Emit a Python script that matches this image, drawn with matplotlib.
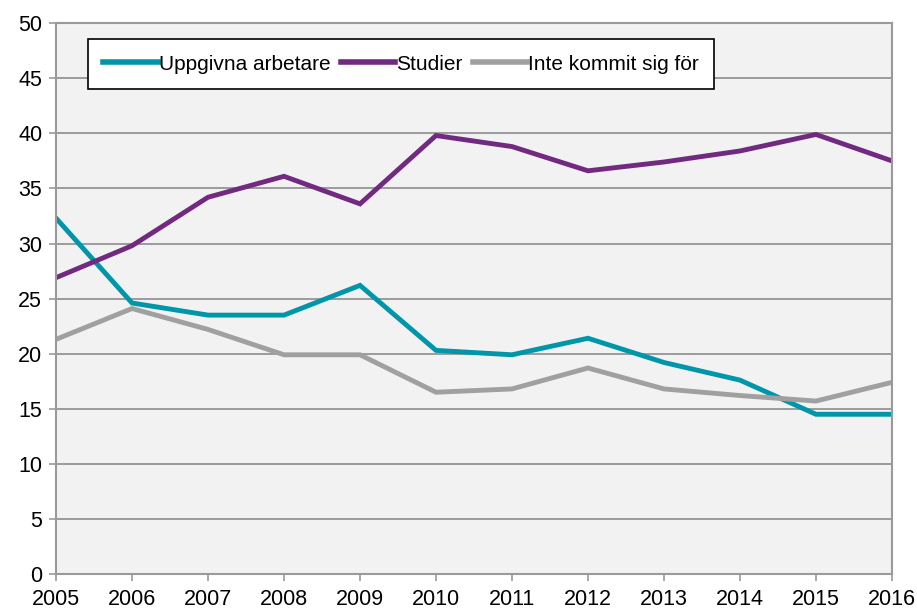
import matplotlib

matplotlib.use("Agg")

import matplotlib.pyplot as plt

plt.rcParams["font.family"] = ["Liberation Sans", "DejaVu Sans"]

years = [2005, 2006, 2007, 2008, 2009, 2010, 2011, 2012, 2013, 2014, 2015, 2016]

uppgivna = [32.3, 24.6, 23.5, 23.5, 26.2, 20.3, 19.9, 21.4, 19.2, 17.6, 14.5, 14.5]
studier = [26.9, 29.8, 34.2, 36.1, 33.6, 39.8, 38.8, 36.6, 37.4, 38.4, 39.9, 37.5]
inte_kommit = [21.3, 24.1, 22.2, 19.9, 19.9, 16.5, 16.8, 18.7, 16.8, 16.2, 15.7, 17.4]

series_labels = ["Uppgivna arbetare", "Studier", "Inte kommit sig för"]
series_colors = ["#0096AA", "#722A80", "#A0A0A0"]

fig = plt.figure(figsize=(9.17, 6.10), dpi=100)
ax = fig.add_axes([0.0611, 0.059, 0.9116, 0.903])
ax.set_facecolor("#F2F2F2")

for values, label, color in zip([uppgivna, studier, inte_kommit], series_labels, series_colors):
    ax.plot(years, values, color=color, linewidth=3.5, label=label, solid_joinstyle="miter")

ax.set_xlim(2005, 2016)
ax.set_ylim(0, 50)
ax.set_xticks(years)
ax.set_yticks(range(0, 51, 5))

ax.grid(axis="y", color="#8C8C8C", linewidth=1.2)
ax.set_axisbelow(True)

for side in ["left", "right", "bottom", "top"]:
    ax.spines[side].set_color("#9A9A9A")
    ax.spines[side].set_linewidth(1.5)

ax.tick_params(axis="both", direction="out", length=5, width=1.2, color="#9A9A9A",
               labelsize=15.5, labelcolor="black")
ax.tick_params(axis="y", pad=5)
ax.tick_params(axis="x", pad=6)

leg = ax.legend(
    loc="upper left",
    bbox_to_anchor=(0.038, 0.971),
    ncol=3,
    fontsize=15,
    frameon=True,
    fancybox=False,
    edgecolor="black",
    framealpha=1,
    handlelength=2.6,
    handletextpad=0.05,
    columnspacing=0.5,
    borderpad=0.75,
    borderaxespad=0,
)
leg.get_frame().set_linewidth(1.2)
for line in leg.get_lines():
    line.set_linewidth(4)

fig.savefig("out.png", dpi=100)
